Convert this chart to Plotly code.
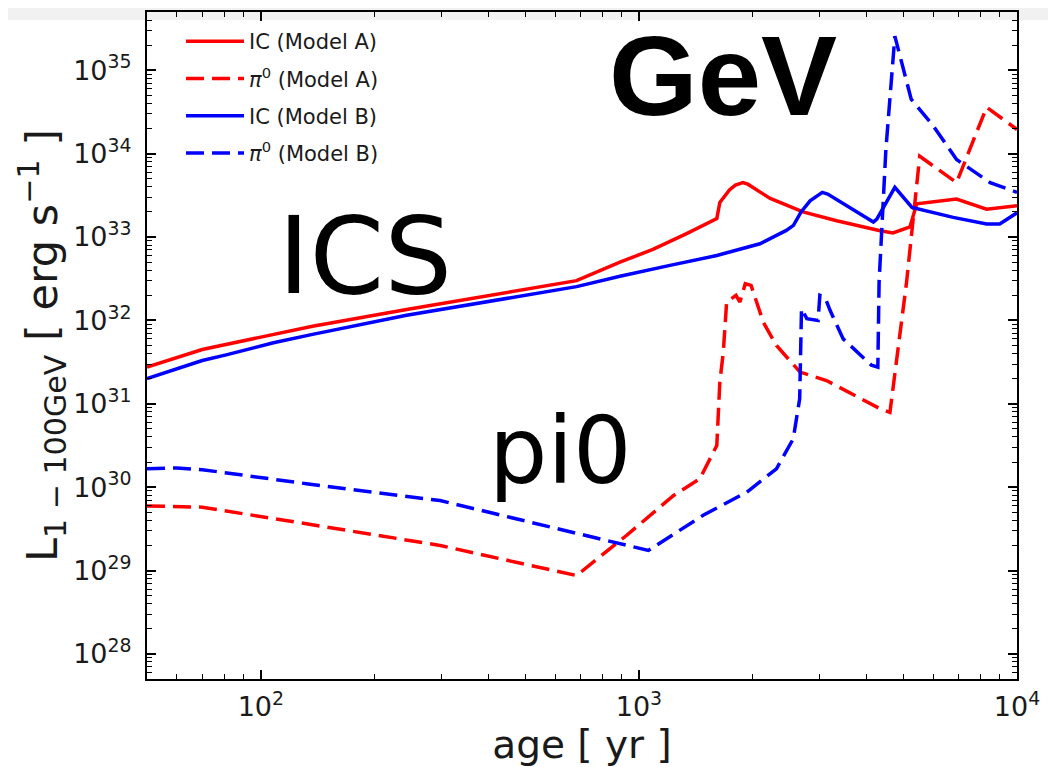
import math
import plotly.graph_objects as go

# ---------------- data (age in yr, luminosity in erg/s) ----------------
age_ic_a = [50, 70, 100, 137, 243, 684, 891, 1089, 1337, 1607, 1637, 1738, 1800, 1884,
            1941, 2225, 2716, 3335, 4345, 4700, 5210, 5430, 6920, 8310, 10000]
lum_ic_a = [2.75e31, 4.47e31, 6.3e31, 8.5e31, 1.35e32, 3.0e32, 5.0e32, 7.1e32, 1.1e33,
            1.66e33, 2.6e33, 3.7e33, 4.2e33, 4.5e33, 4.3e33, 2.9e33, 2.0e33, 1.57e33,
            1.19e33, 1.12e33, 1.32e33, 2.5e33, 2.85e33, 2.16e33, 2.37e33]

age_pi_a = [50, 70, 132, 298, 684, 927, 1233, 1449, 1607, 1637, 1672, 1706, 1806, 1850,
            1911, 1980, 2133, 2311, 2667, 3134, 4345, 4613, 5105, 5530, 6920, 8310, 10000]
lum_pi_a = [5.96e29, 5.75e29, 3.63e29, 2.0e29, 8.7e28, 2.63e29, 7.9e29, 1.26e30, 3.16e30,
            1.82e31, 4.17e31, 1.66e32, 2.0e32, 1.66e32, 2.75e32, 2.63e32, 9.5e31, 5.0e31,
            2.4e31, 1.9e31, 8.7e30, 7.9e30, 2.9e32, 9.3e33, 4.5e33, 3.6e34, 1.95e34]

age_ic_b = [50, 70, 81, 108, 137, 243, 684, 891, 1208, 1607, 2090, 2454, 2563, 2685, 2836,
            2950, 3055, 3157, 4170, 4258, 4753, 5275, 6780, 8310, 9000, 10000]
lum_ic_b = [2.0e31, 3.3e31, 3.86e31, 5.4e31, 6.8e31, 1.15e32, 2.54e32, 3.39e32, 4.57e32,
            6.0e32, 8.3e32, 1.2e33, 1.38e33, 2.0e33, 2.72e33, 3.09e33, 3.43e33, 3.27e33,
            1.51e33, 1.64e33, 3.94e33, 2.26e33, 1.72e33, 1.43e33, 1.43e33, 1.95e33]

age_pi_b = [50, 60, 70, 132, 298, 670, 1059, 1479, 1928, 2311, 2560, 2662, 2675, 2692,
            2780, 2978, 3010, 3105, 3203, 3470, 4120, 4285, 4318, 4500, 4753, 5250, 6010,
            6920, 8490, 10000]
lum_pi_b = [1.66e30, 1.70e30, 1.62e30, 1.10e30, 6.9e29, 2.9e29, 1.74e29, 4.6e29, 8.7e29,
            1.66e30, 3.8e30, 1.15e31, 2.4e31, 1.38e32, 1.05e32, 1.0e32, 2.0e32, 1.9e32,
            1.32e32, 6.0e31, 2.9e31, 2.75e31, 2.9e32, 1.12e34, 2.57e35, 4.5e34, 2.14e34,
            8.5e33, 4.5e33, 3.43e33]

series_names = ["IC (Model A)", "<i>π</i><sup>0</sup> (Model A)",
                "IC (Model B)", "<i>π</i><sup>0</sup> (Model B)"]

x_tick_vals = [1e2, 1e3, 1e4]
x_tick_text = ["10<sup>2</sup>", "10<sup>3</sup>", "10<sup>4</sup>"]
y_tick_vals = [1e28, 1e29, 1e30, 1e31, 1e32, 1e33, 1e34, 1e35]
y_tick_text = ["10<sup>%d</sup>" % e for e in range(28, 36)]

x_range = [50, 1e4]
y_range = [5e27, 5e35]

# ---------------- figure ----------------
RED = "#ff0000"
BLUE = "#0000ff"
DASH = "18px,8px"

fig = go.Figure()
specs = [
    (age_ic_a, lum_ic_a, series_names[0], RED, "solid"),
    (age_pi_a, lum_pi_a, series_names[1], RED, DASH),
    (age_ic_b, lum_ic_b, series_names[2], BLUE, "solid"),
    (age_pi_b, lum_pi_b, series_names[3], BLUE, DASH),
]
for i, (xs, ys, nm, col, dash) in enumerate(specs):
    fig.add_trace(go.Scatter(x=xs, y=ys, mode="lines", name=nm, legendgroup="g%d" % i,
                             line=dict(color=col, width=3.5, dash=dash)))

# page offset of the plot div (browser body margin)
OFF = 8
W, H = 1056 - OFF, 767 - OFF
L_PX, R_PX, T_PX, B_PX = 147, 1017, 12, 679   # plot frame, page pixels

axis_common = dict(
    type="log", showgrid=False, zeroline=False,
    showline=True, linecolor="black", linewidth=2, mirror="allticks",
    ticks="inside", ticklen=9, tickwidth=1.5, tickcolor="black",
    tickfont=dict(family="DejaVu Sans", size=27, color="#1a1a1a"),
    minor=dict(ticks="inside", ticklen=5, tickwidth=1.2, tickcolor="black",
               dtick="D1", showgrid=False),
)

pw, ph = R_PX - L_PX, B_PX - T_PX
def px_x(px):
    return (px - L_PX) / pw
def px_y(py):
    return (B_PX - py) / ph

fig.update_layout(
    width=W, height=H,
    margin=dict(l=L_PX - OFF, r=W - (R_PX - OFF), t=T_PX - OFF, b=H - (B_PX - OFF),
                autoexpand=False),
    paper_bgcolor="white", plot_bgcolor="white",
    showlegend=True,
    legend=dict(x=px_x(181), y=px_y(21), xanchor="left", yanchor="top",
                bgcolor="rgba(0,0,0,0)", borderwidth=0, tracegroupgap=7, itemwidth=58,
                font=dict(family="DejaVu Sans", size=21, color="#1a1a1a")),
    xaxis=dict(range=[math.log10(x_range[0]), math.log10(x_range[1])],
               tickmode="array", tickvals=x_tick_vals, ticktext=x_tick_text,
               ticklabelstandoff=3,
               title=dict(text="age [ yr ]", standoff=12,
                          font=dict(family="DejaVu Sans", size=39, color="#1a1a1a")),
               **axis_common),
    yaxis=dict(range=[math.log10(y_range[0]), math.log10(y_range[1])],
               tickmode="array", tickvals=y_tick_vals, ticktext=y_tick_text,
               ticklabelstandoff=8,
               title=dict(text="L<sub>1 − 100GeV</sub> [ erg s<sup>−1</sup> ]", standoff=1,
                          font=dict(family="DejaVu Sans", size=43, color="#1a1a1a")),
               **axis_common),
)

# light grey header band seen at the top of the reference
fig.add_shape(type="rect", xref="paper", yref="paper", layer="below",
              x0=px_x(0), x1=px_x(1100), y0=px_y(20), y1=px_y(OFF),
              fillcolor="#f1f1f1", line=dict(width=0))

fig.add_annotation(text="<b>GeV</b>", xref="paper", yref="paper", x=px_x(723), y=px_y(76),
                   xanchor="center", yanchor="middle", showarrow=False,
                   font=dict(family="Liberation Sans", size=114, color="black"))
fig.add_annotation(text="ICS", xref="paper", yref="paper", x=px_x(365), y=px_y(256),
                   xanchor="center", yanchor="middle", showarrow=False,
                   font=dict(family="DejaVu Sans", size=107, color="black"))
fig.add_annotation(text="pi0", xref="paper", yref="paper", x=px_x(560), y=px_y(452),
                   xanchor="center", yanchor="middle", showarrow=False,
                   font=dict(family="DejaVu Sans", size=92, color="black"))

fig.write_html("out.html")
